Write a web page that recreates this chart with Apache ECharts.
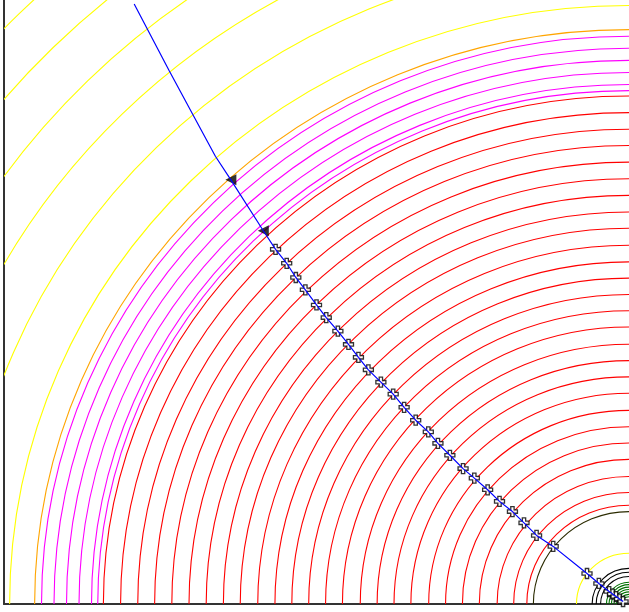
<!DOCTYPE html>
<html>
<head>
<meta charset="utf-8">
<script src="https://cdn.jsdelivr.net/npm/echarts@6/dist/echarts.min.js"></script>
<style>
  html, body { margin: 0; padding: 0; background: #fff; }
  #chart { width: 629px; height: 612px; }
</style>
</head>
<body>
<div id="chart"></div>
<script>
// radii of the rings, grouped by colour (data units, centre at 0,0)
const yellowRadii = [99.1, 106.9, 114.7, 122.5, 130.3, 138.1];
const orangeRadii = [95.1];
const magentaRadii = [94.0, 92.0, 90.0, 88.0, 86.0, 85.0];
const redRadii = [84.1, 81.35, 78.6, 75.9, 73.15, 70.4, 67.65, 64.9, 62.2, 59.4, 56.65, 53.95, 51.25,
  48.55, 45.85, 43.0, 40.3, 37.6, 34.9, 32.05, 29.35, 26.65, 23.95, 21.1, 18.45, 16.35];
const oliveRadii = [15.3];
const innerYellowRadii = [8.4];
const blackRadii = [5.9, 5.25, 4.55];
const greenRadii = [3.6, 3.2, 2.8, 2.4, 2.0, 1.6, 1.2];

// blue path: leading points, arrow heads, then the cross markers
const leadPts = [[-79.17, 99.34], [-73.61, 88.37], [-69.90, 81.25], [-66.18, 74.13]];
const arrowPts = [[-63.70, 70.23], [-58.51, 61.79]];
const markPts = [
  [-56.55, 58.72], [-54.77, 56.41], [-53.31, 54.06], [-51.78, 52.02], [-50.00, 49.51],
  [-48.44, 47.42], [-46.58, 45.18], [-44.88, 42.98], [-43.29, 40.84], [-41.70, 38.77],
  [-39.70, 36.73], [-37.73, 34.75], [-35.98, 32.57], [-34.13, 30.43], [-32.11, 28.50],
  [-30.57, 26.60], [-28.66, 24.62], [-26.55, 22.42], [-24.75, 20.84], [-22.62, 18.91],
  [-20.72, 16.99], [-18.65, 15.30], [-16.80, 13.44], [-14.79, 11.35], [-12.13, 9.54],
  [-6.72, 5.05], [-4.82, 3.40], [-3.18, 2.06], [-2.62, 1.64], [-2.07, 1.23],
  [-1.51, 0.82], [-0.95, 0.41]
];

const chart = echarts.init(document.getElementById("chart"));

function ringSeries(radii, color) {
  return {
    type: "custom",
    coordinateSystem: "cartesian2d",
    clip: true,
    silent: true,
    data: radii.map(r => [r, 0]),
    renderItem: (params, api) => {
      const r = api.value(0);
      const c = api.coord([0, 0]);
      const s = api.size([r, r]);
      return {
        type: "ellipse",
        shape: { cx: c[0], cy: c[1], rx: s[0], ry: s[1] },
        style: { fill: null, stroke: color, lineWidth: 1.1 }
      };
    }
  };
}

const option = {
  animation: false,
  grid: { left: 4, right: -4, top: -4, bottom: 8 },
  xAxis: {
    type: "value",
    min: -100,
    max: 0,
    axisLine: { show: true, onZero: false, lineStyle: { color: "#333", width: 2 } },
    axisTick: { show: false },
    axisLabel: { show: false },
    splitLine: { show: false }
  },
  yAxis: {
    type: "value",
    min: 0,
    max: 100,
    axisLine: { show: true, onZero: false, lineStyle: { color: "#333", width: 2 } },
    axisTick: { show: false },
    axisLabel: { show: false },
    splitLine: { show: false }
  },
  series: [
    ringSeries(yellowRadii, "#ffff00"),
    ringSeries(orangeRadii, "#ffa500"),
    ringSeries(magentaRadii, "#ff00ff"),
    ringSeries(redRadii, "#ff0000"),
    ringSeries(oliveRadii, "#2b2b00"),
    ringSeries(innerYellowRadii, "#ffff00"),
    ringSeries(blackRadii, "#000000"),
    ringSeries(greenRadii, "#007000"),
    {
      type: "line",
      data: leadPts.concat(arrowPts, markPts),
      symbol: "none",
      lineStyle: { color: "#0000ff", width: 1.2 },
      silent: true
    },
    {
      type: "scatter",
      data: arrowPts,
      symbol: "triangle",
      symbolSize: 11,
      symbolRotate: 90,
      itemStyle: { color: "#000" },
      silent: true
    },
    {
      type: "scatter",
      data: markPts,
      symbol: "path://M3,0H6V3H9V6H6V9H3V6H0V3H3Z",
      symbolSize: 10,
      itemStyle: { color: "#fff", borderColor: "#000", borderWidth: 1.3 },
      silent: true
    }
  ]
};

chart.setOption(option);
</script>
</body>
</html>
